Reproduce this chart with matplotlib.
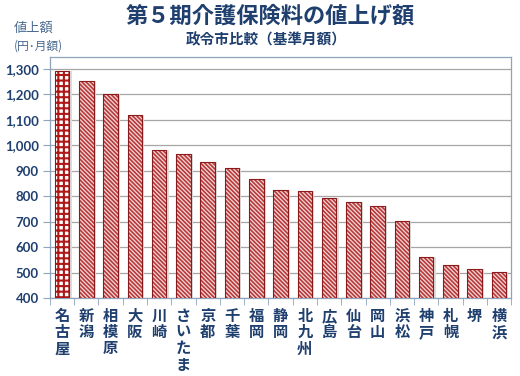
import matplotlib.pyplot as plt
import numpy as np

plt.rcParams['font.family'] = ['Noto Sans CJK JP', 'DejaVu Sans']

cities = ['名古屋', '新潟', '相模原', '大阪', '川崎', 'さいたま', '京都', '千葉', '福岡',
          '静岡', '北九州', '広島', '仙台', '岡山', '浜松', '神戸', '札幌', '堺', '横浜']
increase = [1290, 1250, 1201, 1118, 982, 964, 932, 912, 868,
            826, 821, 792, 776, 762, 701, 561, 529, 514, 502]
yticks = [400, 500, 600, 700, 800, 900, 1000, 1100, 1200, 1300]

navy = '#1f3f6e'
red = '#b83a3a'

fig = plt.figure(figsize=(5.2, 3.76), dpi=100)
ax = fig.add_axes([0.096, 0.207, 0.887, 0.641])

x = np.arange(len(cities))
w = 0.6
base = yticks[0]
h = np.array(increase) - base

# soft shadow to the right of each bar
ax.bar(x + 0.09, h, w, bottom=base, color='#dcdcdc', zorder=2, linewidth=0)

# first bar: dotted cross pattern, rest: fine diagonal
plt.rcParams['hatch.linewidth'] = 1.5
ax.bar(x[0], h[0], w, bottom=base, facecolor='white', edgecolor='#b01818',
       hatch='+++', linewidth=0, zorder=3)
plt.rcParams['hatch.linewidth'] = 1.2
ax.bar(x[1:], h[1:], w, bottom=base, facecolor='#f2d8d8', edgecolor=red,
       hatch='\\\\\\\\\\\\\\\\', linewidth=0, zorder=3)
ax.bar(x, h, w, bottom=base, facecolor='none', edgecolor='#8b1a1a',
       linewidth=0.8, zorder=4)

ax.set_xlim(-0.5, len(cities) - 0.5)
ax.set_ylim(400, 1345)
ax.set_yticks(yticks)
ax.set_yticklabels([f'{v:,}' for v in yticks], fontsize=9.5, fontweight='bold',
                   color=navy, family=['Lato', 'DejaVu Sans'])
ax.yaxis.grid(True, color='#a6a6a6', linewidth=0.9, zorder=0)
ax.set_axisbelow(True)

ax.set_xticks(x)
ax.set_xticklabels(['\n'.join(c) for c in cities], fontsize=11, fontweight='bold',
                   color=navy, va='top', linespacing=1.02)
ax.tick_params(axis='x', length=0, pad=7)
ax.set_xticks(np.arange(len(cities) + 1) - 0.5, minor=True)
ax.tick_params(axis='x', which='minor', length=5, color='#8ea4bd')
ax.tick_params(axis='y', length=5, color='#8ea4bd', pad=3)

for s in ax.spines.values():
    s.set_color('#8ea4bd')
    s.set_linewidth(0.9)

fig.text(0.52, 0.957, '第５期介護保険料の値上げ額', ha='center', va='center',
         fontsize=16, fontweight='bold', color=navy)
fig.text(0.512, 0.895, '政令市比較（基準月額）', ha='center', va='center',
         fontsize=10.5, fontweight='bold', color=navy)
fig.text(0.064, 0.925, '値上額', ha='center', va='center', fontsize=9.5, color='#4a6a90')
fig.text(0.074, 0.878, '(円･月額)', ha='center', va='center', fontsize=8.5, color='#4a6a90')

fig.savefig('out.png', dpi=100)
